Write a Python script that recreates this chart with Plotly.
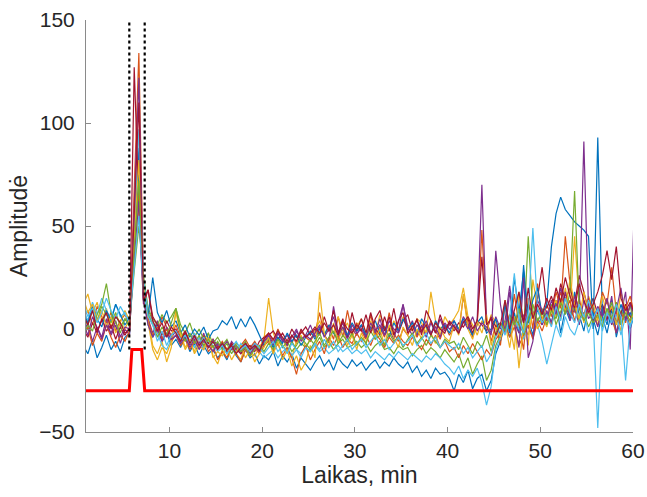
import numpy as np
import plotly.graph_objects as go

# Sampling grid (min): 0.5-minute steps, slightly overhanging the 1-60 axis range
time_min = np.round(0.7 + 0.5 * np.arange(120), 2)

# Stimulus window (dotted markers) and stimulus trace
window_edges = [5.67, 7.33]
window_top = 150
window_bottom = -10
stim_t = [1, 5.67, 5.95, 7.0, 7.33, 60]
stim_v = [-30, -30, -10, -10, -30, -30]

# MATLAB default colour order
colors = ["#0072BD", "#D95319", "#EDB120", "#7E2F8E", "#77AC30", "#4DBEEE", "#A2142F"]

s01 = [-8, -12, -5, -14, -9, -3, -10, -6, -11, -4,
       -2, 45, 88, 15, 2, -4, 3, -6, -2, -8,
       -5, -9, -4, -11, -7, -13, -8, -12, -10, -14,
       -11, -15, -9, -13, -16, -10, -14, -12, -17, -13,
       -15, -11, -18, -13, -16, -12, -19, -14, -17, -20,
       -16, -13, -18, -15, -20, -14, -17, -19, -15, -18,
       -16, -20, -17, -15, -19, -16, -18, -14, -17, -19,
       -16, -21, -18, -23, -20, -24, -19, -22, -21, -24,
       -30, -22, -26, -20, -29, -24, -22, -30, -25, -12,
       -6, 2, -4, 8, -2, 31, 5, -3, 10, 2,
       8, 3, 14, -2, 10, 4, 18, 7, -1, 12,
       5, -3, 9, 2, 14, -4, 6, 11, 0, 8]
s02 = [5, 9, 2, 11, 6, 3, 8, -1, 4, 7,
       2, 70, 134, 22, 9, 4, -2, 6, 1, -3,
       2, -4, -1, -6, -2, -8, -3, -7, -5, -9,
       -6, -10, -7, -11, -8, -5, -9, -6, -10, -4,
       -2, -6, 0, -5, -8, -3, -7, -1, -4, -6,
       -2, 8, -3, 1, -5, 6, -4, 9, -2, 3,
       -1, -5, 7, -3, 1, -4, 8, -2, -6, 0,
       -3, 2, -4, 1, -2, 4, -1, -5, 2, -3,
       1, -2, 16, 3, -4, 2, 48, 5, -6, 2,
       -8, 12, -1, 17, 2, -10, 15, 0, 22, 3,
       12, 6, 18, 10, 45, 22, 8, 15, 4, 11,
       6, 2, 9, 14, 5, -2, 8, 3, 12, 5]
s03 = [12, 17, 8, 13, 4, 10, 1, 7, 3, 9,
       4, 30, 58, 20, 6, -8, -12, -6, -16, -9,
       10, -3, -10, -6, -11, -4, -9, -2, -13, -17,
       -10, -14, -8, -12, -15, -7, -11, -13, -9, -5,
       15, -2, -8, -4, -10, -14, -6, -3, -9, -5,
       -1, 4, -3, 2, -2, 6, -1, 3, -4, 1,
       5, -2, 3, -3, 7, 1, -4, 4, 0, 6,
       2, -1, 5, 3, -2, 18, 4, -3, 6, 2,
       5, 9, 20, 6, 2, -3, 4, -1, 7, 3,
       -5, 14, 1, -10, 18, 3, -8, 24, 10, 6,
       1, 9, 14, 5, 20, 8, 45, 12, 3, 16,
       10, 2, 7, 15, 4, 9, -1, 12, 6, 3]
s04 = [-2, 3, -6, 1, -4, 5, -3, 2, -7, 0,
       -3, 60, 122, 18, 5, -2, 4, -5, 1, -4,
       -1, -6, -3, -8, -4, -7, -2, -9, -5, -8,
       -7, -11, -6, -9, -12, -8, -10, -7, -11, -6,
       -4, -8, -2, -6, -3, -7, -1, -5, -3, 2,
       -4, 1, -3, -6, 11, -2, 3, -4, 0, -3,
       2, -4, 1, -2, 5, -3, 0, -5, 3, 12,
       -1, 4, -3, 2, -4, 3, -2, 5, -1, 2,
       4, -1, 6, 2, -3, 5, 70, 3, -2, 6,
       0, 4, 21, 3, -2, 7, 1, -4, 5, 2,
       9, 3, 12, 6, 18, 4, 10, 2, 14, 5,
       8, 1, 11, 4, 16, -2, 7, 18, -10, 70]
s05 = [6, 2, 9, 4, 11, 7, 3, 8, 1, 5,
       3, 28, 50, 26, 10, 5, 2, 7, 3, 6,
       10, 2, -2, 3, -4, 0, -5, -2, -7, -4,
       -8, -5, -10, -7, -9, -6, -11, -8, -10, -7,
       -5, -9, -4, -8, -11, -6, -10, -7, -9, -5,
       -8, -4, -9, -6, -10, -7, -5, -9, -8, -6,
       -9, -7, -11, -8, -6, -10, -9, -12, -8, -10,
       -9, -13, -10, -8, -12, -9, -11, -14, -10, -13,
       -16, -12, -19, -14, -22, -17, -13, -25, -20, -8,
       -3, 4, -1, 6, 2, -2, 45, 8, 3, 10,
       5, 12, 2, 9, 15, 6, 11, 4, 8, 1,
       6, 10, 3, 8, 13, 2, 9, 5, 11, 4]
s06 = [10, 4, 13, 7, 15, 9, 5, 12, 6, 8,
       2, 50, 97, 24, 8, 3, -2, -8, -10, -5,
       -3, -8, -2, -6, -9, -4, -10, -6, -8, -11,
       -9, -12, -8, -11, -7, -10, -13, -9, -11, -14,
       -12, -10, -14, -11, -9, -13, -10, -12, -9, -11,
       -8, -11, -9, -12, -10, -8, -11, -9, -12, -10,
       -12, -10, -14, -11, -13, -15, -12, -14, -11, -13,
       -15, -12, -14, -16, -13, -15, -12, -14, -17, -19,
       -22, -18, -24, -20, -23, -19, -26, -37, -28, -10,
       -4, 3, -2, 5, 0, -5, 3, 8, 2, -6,
       -17, -8, 2, -4, 6, 0, -3, 4, 8, -2,
       5, -48, 4, 10, 2, 7, -3, 6, 1, 9]
s07 = [0, -4, 3, -2, 5, -1, 2, -5, 1, -3,
       1, 127, 60, 12, 19, 6, 2, -3, 4, -1,
       0, -5, -2, -6, -3, -8, -4, -7, -6, -9,
       -8, -11, -7, -10, -12, -9, -8, -11, -6, -4,
       -3, -1, -5, -2, -6, 0, -4, -2, 1, -3,
       0, -3, 6, -1, 9, -2, 5, -4, 8, -1,
       5, -2, 8, 0, -3, 6, -1, 10, -2, 4,
       7, -1, 5, -3, 9, 4, -2, 7, 0, 3,
       -1, 3, 1, 5, -2, 4, 2, -1, 6, 1,
       3, -1, 7, 2, 9, 4, 12, 6, 15, 30,
       10, 16, 8, 22, 14, 20, 12, 26, 18, 9,
       15, 7, 12, 5, 10, 3, 8, 12, 6, 4]
s08 = [8, 3, 11, 5, 1, 9, 4, 12, 7, 2,
       5, 38, 75, 14, 6, 25, 8, 3, 9, 1,
       4, -2, 2, -4, 0, -3, 1, -5, -1, 0,
       4, 2, 6, 0, 5, 1, 6, 2, -3, -8,
       -5, -9, -4, -7, -2, -6, -3, -8, -4, -1,
       -5, 0, -3, 2, -2, -5, 1, -3, 3, -1,
       2, -3, 0, 4, -2, 1, -4, 3, -1, 5,
       0, 3, -2, 5, 1, -3, 4, 0, 2, -2,
       4, 0, 5, 1, -3, 3, 6, -2, 0, 5,
       -4, 12, -2, 25, 8, 28, 3, 14, 20, 7,
       12, 40, 56, 64, 58, 55, 52, 50, 48, 45,
       0, 93, 6, -2, 9, 3, 12, 5, 8, 2]
s09 = [-5, 1, -8, -2, -6, 2, -4, -9, -3, -6,
       -1, 40, 68, 16, 4, -3, 1, -5, 0, -6,
       -3, -8, -5, -10, -6, -9, -4, -11, -8, -15,
       -11, -14, -9, -12, -16, -10, -13, -9, -12, -8,
       -6, -11, -7, -13, -9, -14, -22, -12, -8, -15,
       -10, -6, -12, -4, -8, -3, -9, -5, -7, -2,
       -6, -3, -8, -2, -5, -9, -4, -7, -3, -6,
       -8, -4, -7, -10, -5, -8, -3, -9, -6, -11,
       -9, -14, -8, -12, -7, -11, -15, -10, -13, -5,
       -2, 3, -4, 1, -8, -3, 2, -5, 4, -1,
       6, 2, 10, 18, 8, 14, 4, 11, 7, 15,
       9, 5, 18, 12, 30, 8, 2, 10, 16, 6]
s10 = [15, 8, 12, 4, 9, 1, 6, -2, 3, 0,
       5, 45, 82, 20, 3, -10, -15, -9, -12, -6,
       8, -2, -9, -5, -12, -8, -10, -4, -14, -11,
       -13, -9, -15, -11, -8, -14, -10, -16, -12, -9,
       -4, -12, -6, -15, -10, -18, -13, -20, -16, -8,
       -14, 18, -2, -9, 3, -6, 1, -8, -3, -10,
       -2, -7, 4, -5, 0, -8, 2, -4, -9, 1,
       -3, -8, 0, -5, 3, -2, -7, 1, -4, -6,
       2, -3, 17, 0, -5, 4, -2, 7, -8, 1,
       -4, 3, -9, 6, -19, 2, -3, 8, 0, 5,
       3, 11, 6, 15, 9, 24, 12, 5, 18, 8,
       12, 4, 16, 7, 11, 2, 18, 9, 3, 10]
s11 = [3, -3, 6, 0, -5, 2, -2, 4, -4, 1,
       0, 35, 62, 14, 2, -4, 0, -6, -2, -5,
       -3, -7, -4, -9, -5, -10, -6, -8, -11, -7,
       -9, -6, -10, -8, -11, -7, -12, -9, -10, -6,
       -3, -7, -2, -5, -8, -4, 0, -6, -3, -5,
       -2, 2, -4, 0, 6, -3, 1, -5, 2, -2,
       0, -4, 3, -1, 2, -3, 4, 0, -2, 12,
       1, -3, 2, -1, 4, -2, 1, -4, 3, 0,
       2, -2, 4, 0, 6, -1, 3, 1, -3, 38,
       12, -2, 18, 3, -9, 25, -14, -6, 14, 9,
       4, 14, 7, 20, 11, 6, 16, 9, 91, 10,
       3, 11, 6, 15, 2, 9, 20, 4, 12, 6]
s12 = [-4, 2, -1, 7, 12, 22, 8, 3, -2, 5,
       1, 38, 72, 18, 7, 2, -4, 1, -3, 3,
       10, -1, -6, -2, -7, -3, -8, -5, -9, -6,
       -10, -7, -12, -8, -11, -9, -13, -10, -8, -11,
       -7, -10, -5, -9, -6, -11, -8, -4, -7, -10,
       -6, -2, -8, -4, -1, -7, -3, -6, -2, -8,
       -4, -7, -1, -5, -3, -8, -2, -6, -4, -9,
       -5, -2, -7, -4, -8, -3, -6, -9, -5, -7,
       -6, -10, -4, -8, -12, -6, -9, -3, -11, -2,
       3, -1, 6, 2, 10, -3, 5, 12, 4, 8,
       2, 9, 5, 13, 7, 18, 67, 10, 4, 8,
       3, 7, 1, 10, 5, 13, 2, 8, 4, 11]
s13 = [13, 6, 10, 3, 8, 15, 9, 5, 11, 7,
       4, 30, 55, 18, 6, 2, -6, -1, -8, -3,
       -1, -5, -3, -7, -2, -8, -4, -9, -6, -10,
       -8, -12, -9, -6, -10, -8, -11, -7, -9, -12,
       -9, -6, -11, -8, -12, -7, -10, -14, -9, -11,
       -7, -10, -5, -9, -6, -11, -8, -5, -10, -7,
       -5, -9, -6, -3, -8, -5, -10, -7, -4, -8,
       -6, -3, -8, -5, -2, -7, -4, -9, -6, -8,
       -10, -7, -12, -9, -14, -11, -8, -16, -12, -4,
       2, -3, 6, 27, 4, -2, 8, 49, 10, 3,
       7, 1, 11, 4, 15, 8, 3, 12, 6, 14,
       5, 10, -1, 8, 3, 12, 6, -25, 2, 7]
s14 = [7, 2, 9, -1, 4, 8, 0, 6, 3, -2,
       0, 55, 110, 14, 19, 4, -1, 3, -4, 1,
       -2, -6, -1, -7, -3, -8, -5, -9, -6, -10,
       -7, -10, -8, -12, -9, -7, -10, -8, -11, -5,
       -2, -5, -1, -4, -7, -3, -6, 0, -4, -2,
       1, -2, 3, -1, 2, -3, 4, 0, -2, 2,
       -1, 7, -2, 5, 9, -1, 6, -3, 4, 8,
       -2, 1, 4, -1, 2, -3, 3, 0, -2, 4,
       1, -2, 3, 6, 0, 4, 35, 2, 5, -3,
       2, 14, 0, 9, 18, 3, 20, 5, 12, 7,
       15, 9, 20, 13, 25, 16, 10, 22, 14, 8,
       12, 18, 26, 38, 24, 40, 15, 9, 13, 7]

responses = [s01, s02, s03, s04, s05, s06, s07, s08, s09, s10, s11, s12, s13, s14]
for r in responses:
    assert len(r) == len(time_min), len(r)

fig = go.Figure()

for i, y in enumerate(responses):
    fig.add_trace(go.Scatter(
        x=time_min, y=y, mode="lines",
        line=dict(color=colors[i % len(colors)], width=1.2),
        hoverinfo="skip", showlegend=False,
    ))

# Stimulus trace
fig.add_trace(go.Scatter(
    x=stim_t, y=stim_v, mode="lines",
    line=dict(color="#FF0000", width=3),
    hoverinfo="skip", showlegend=False,
))

# Stimulus window boundaries
for xe in window_edges:
    fig.add_trace(go.Scatter(
        x=[xe, xe], y=[window_bottom, window_top], mode="lines",
        line=dict(color="#000000", width=2.2, dash="dot"),
        hoverinfo="skip", showlegend=False,
    ))

tick_font = dict(family="Liberation Sans, Arial, sans-serif", size=21, color="#262626")
title_font = dict(family="Liberation Sans, Arial, sans-serif", size=23, color="#262626")

fig.update_layout(
    width=647, height=497,
    margin=dict(l=86, r=14, t=20, b=65),
    paper_bgcolor="white", plot_bgcolor="white",
    font=tick_font,
    showlegend=False,
)
fig.update_xaxes(
    range=[1, 60], tickvals=[10, 20, 30, 40, 50, 60],
    showgrid=False, zeroline=False, automargin=False,
    showline=True, linecolor="#8a8a8a", linewidth=1,
    ticks="inside", ticklen=5, tickcolor="#8a8a8a",
    tickfont=tick_font,
    title=dict(text="Laikas, min", font=title_font, standoff=2),
)
fig.update_yaxes(
    range=[-50, 150], tickvals=[-50, 0, 50, 100, 150],
    showgrid=False, zeroline=False, automargin=False,
    showline=True, linecolor="#8a8a8a", linewidth=1,
    ticks="inside", ticklen=5, tickcolor="#8a8a8a",
    tickfont=tick_font, ticklabelstandoff=6,
    title=dict(text="Amplitudė", font=title_font, standoff=5),
)

fig.write_html("out.html")
